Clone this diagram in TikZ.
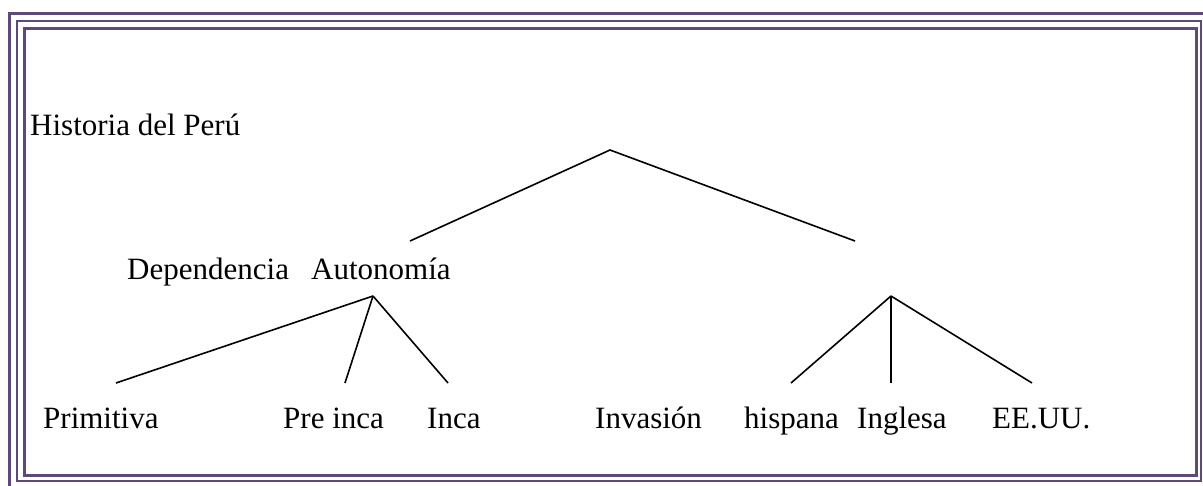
\documentclass[tikz,border=0pt]{standalone}
\usepackage{fontspec}
\setmainfont{Liberation Serif}
\definecolor{framepurple}{RGB}{95,73,122}
\begin{document}
\begin{tikzpicture}[x=1pt,y=-1pt,
  lbl/.style={anchor=base west,inner sep=0pt,font=\fontsize{31}{36}\selectfont},
  branch/.style={line width=1.6pt,black},
  thickframe/.style={draw=framepurple,line width=3.5pt},
  thinframe/.style={draw=framepurple,line width=2pt}]
\useasboundingbox (0,0) rectangle (1203,485);
\fill[white] (0,0) rectangle (1203,485);
% frame
\draw[thickframe] (9.7,13.7) rectangle (1210,495);
\draw[thinframe] (17,21) rectangle (1200.5,480.5);
\draw[thickframe] (24.7,28.7) rectangle (1196.5,475.7);
% texts
\node[lbl] (hist) at (30,135) {Historia del Perú};
\node[lbl] (dep) at (127,279) {Dependencia};
\node[lbl] (aut) at (311,279) {Autonomía};
\node[lbl] (prim) at (43,428) {Primitiva};
\node[lbl] (pre) at (283,428) {Pre inca};
\node[lbl] (inca) at (427,428) {Inca};
\node[lbl] (inv) at (595,428) {Invasión};
\node[lbl] (hisp) at (744,428) {hispana};
\node[lbl] (ingl) at (857,428) {Inglesa};
\node[lbl] (eeuu) at (992,428) {EE.UU.};
% tree points
\coordinate (top) at (610,150);
\coordinate (tl) at (410,241);
\coordinate (tr) at (855,241);
\coordinate (ma) at (373,296);
\coordinate (m1) at (116,383);
\coordinate (m2) at (345,383);
\coordinate (m3) at (448,383);
\coordinate (ra) at (891,296);
\coordinate (r1) at (791,383);
\coordinate (r2) at (891,383);
\coordinate (r3) at (1032,383);
\draw[branch] (tl) -- (top) -- (tr);
\draw[branch] (ma) -- (m1);
\draw[branch] (ma) -- (m2);
\draw[branch] (ma) -- (m3);
\draw[branch] (ra) -- (r1);
\draw[branch] (ra) -- (r2);
\draw[branch] (ra) -- (r3);
\end{tikzpicture}
\end{document}
